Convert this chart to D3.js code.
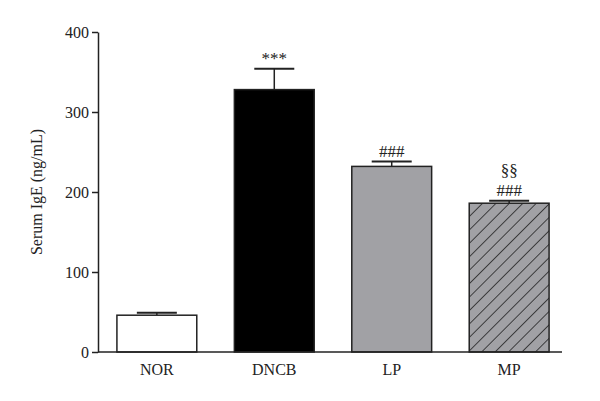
<!DOCTYPE html>
<style>
  body { margin: 0; background: #fff; }
  text { font-family: "Liberation Serif", "DejaVu Serif", serif; fill: #222; }
</style>
<body>
</body>
<script src="https://cdn.jsdelivr.net/npm/d3@7/dist/d3.min.js"></script>
<script>
  const groups = ['NOR', 'DNCB', 'LP', 'MP'];
  const means = [46, 328, 232, 186];
  const errors = [3, 26, 6, 3];
  const marks = [[], ['***'], ['###'], ['###', '§§']];
  const fills = ['#ffffff', '#000000', '#a1a1a5', 'url(#hatch)'];
  const yTicks = [0, 100, 200, 300, 400];

  const w = 600, h = 401;
  const l = 98, r = 562, t = 32, b = 352;
  const svg = d3.select('body').append('svg')
    .attr('width', w).attr('height', h);

  const pat = svg.append('defs').append('pattern')
    .attr('id', 'hatch').attr('patternUnits', 'userSpaceOnUse')
    .attr('width', 9.5).attr('height', 9.5)
    .attr('patternTransform', 'rotate(45)');
  pat.append('rect').attr('width', 9.5).attr('height', 9.5).attr('fill', '#a1a1a5');
  pat.append('line').attr('x1', 0).attr('y1', 0).attr('x2', 0).attr('y2', 9.5)
    .attr('stroke', '#111').attr('stroke-width', 1.4);

  const x = d3.scaleBand().domain(groups).range([l + 6, r]).paddingInner(0.32).paddingOuter(0.11);
  const y = d3.scaleLinear().domain([0, 400]).range([b, t]);

  const g = svg.append('g');

  // error bars
  g.selectAll('.err').data(groups).join('g').attr('class', 'err')
    .each(function (d, i) {
      const cx = x(d) + x.bandwidth() / 2;
      const e = d3.select(this);
      e.append('line').attr('x1', cx).attr('x2', cx)
        .attr('y1', y(means[i])).attr('y2', y(means[i] + errors[i]))
        .attr('stroke', '#222').attr('stroke-width', 1.5);
      e.append('line').attr('x1', cx - 20).attr('x2', cx + 20)
        .attr('y1', y(means[i] + errors[i])).attr('y2', y(means[i] + errors[i]))
        .attr('stroke', '#222').attr('stroke-width', 2);
    });

  g.selectAll('rect.bar').data(groups).join('rect').attr('class', 'bar')
    .attr('x', d => x(d)).attr('width', x.bandwidth())
    .attr('y', (d, i) => y(means[i])).attr('height', (d, i) => b - y(means[i]))
    .attr('fill', (d, i) => fills[i]).attr('stroke', '#222').attr('stroke-width', 1.5);

  // significance marks
  groups.forEach((d, i) => {
    marks[i].forEach((m, k) => {
      g.append('text')
        .attr('x', x(d) + x.bandwidth() / 2)
        .attr('y', y(means[i] + errors[i]) - 5 - k * 20)
        .attr('text-anchor', 'middle').style('font-size', '17px')
        .text(m);
    });
  });

  const yAxis = svg.append('g').attr('transform', `translate(${l},0)`)
    .call(d3.axisLeft(y).tickValues(yTicks).tickSize(6).tickSizeOuter(0));
  const xAxis = svg.append('g').attr('transform', `translate(0,${b})`)
    .call(d3.axisBottom(x).tickSize(0).tickPadding(12));
  xAxis.select('.domain').attr('d', `M${l},0H${r}`);
  [yAxis, xAxis].forEach(a => {
    a.attr('font-size', null).attr('font-family', null);
    a.selectAll('.domain, line').attr('stroke', '#222').attr('stroke-width', 1.5);
    a.selectAll('text').style('font-size', '16px').attr('fill', '#222');
  });

  svg.append('text')
    .attr('transform', `translate(42, ${(t + b) / 2}) rotate(-90)`)
    .attr('text-anchor', 'middle').style('font-size', '16px')
    .text('Serum IgE (ng/mL)');
</script>
